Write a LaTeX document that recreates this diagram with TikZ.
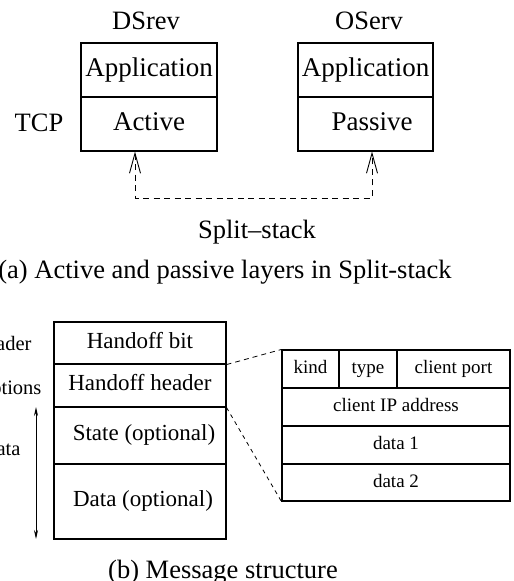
\documentclass[tikz,border=0pt]{standalone}
\usepackage{fontspec}
\setmainfont{Liberation Serif}
\usetikzlibrary{arrows.meta}

\begin{document}
\begin{tikzpicture}[x=1pt,y=-1pt,
  cell/.style={draw,line width=1.1pt,rectangle,inner sep=0pt},
  bigtext/.style={font=\fontsize{27}{31}\selectfont,text height=18pt,text depth=6pt},
  captext/.style={font=\fontsize{26.5}{31}\selectfont},
  midtext/.style={font=\fontsize{23}{27}\selectfont,text height=15.5pt,text depth=5pt},
  sidetext/.style={font=\fontsize{20.5}{24}\selectfont},
  smalltext/.style={font=\fontsize{19}{23}\selectfont,text height=13pt,text depth=4pt},
  splitlink/.style={line width=0.9pt,dash pattern=on 6pt off 4.5pt,
    {Straight Barb[length=20pt,width=11pt]}-{Straight Barb[length=20pt,width=11pt]}},
  zoomlink/.style={line width=0.8pt,dash pattern=on 5pt off 4pt}]
\useasboundingbox (0,0) rectangle (514,581);
\node[captext,anchor=base] (dsrev) at (146,29) {DSrev};
\node[captext,anchor=base] (oserv) at (369,29) {OServ};
\node[cell,bigtext,minimum width=136pt,minimum height=54pt] (dsapp) at (149,70) {Application};
\node[cell,bigtext,minimum width=136pt,minimum height=54pt] (dsact) at (149,124) {Active};
\node[cell,bigtext,minimum width=135pt,minimum height=54pt] (osapp) at (365.5,70) {Application};
\node[cell,bigtext,minimum width=135pt,minimum height=54pt] (ospas) at (365.5,124) {\hspace{13pt}Passive};
\node[captext,anchor=base] (tcp) at (39,131) {TCP};
\coordinate (actfoot) at ([xshift=-14pt]dsact.south);
\coordinate (pasfoot) at ([xshift=6.5pt]ospas.south);
\coordinate (splitbase) at (0,198);
\draw[splitlink] (actfoot) -- (actfoot |- splitbase) -- (pasfoot |- splitbase) -- (pasfoot);
\node[captext,anchor=base] (splitlbl) at (257,238) {Split--stack};
\node[captext,anchor=base] (capa) at (225,278) {(a) Active and passive layers in Split-stack};
\node[cell,midtext,minimum width=172pt,minimum height=42pt] (hbit) at (140,343) {Handoff bit\hspace{18pt}};
\node[cell,midtext,minimum width=172pt,minimum height=43pt] (hhdr) at (140,385.5) {Handoff header\hspace{10pt}};
\node[cell,midtext,minimum width=172pt,minimum height=57pt] (state) at (140,435.5) {\hspace{8pt}State (optional)};
\node[cell,midtext,minimum width=172pt,minimum height=75pt] (data) at (140,501.5) {\hspace{6pt}Data (optional)};
\node[sidetext,anchor=base east] (hdrlbl) at (35,350) {Header};
\node[sidetext,anchor=base east] (optlbl) at (45,394) {Options};
\node[sidetext,anchor=base east] (datalbl) at (24,455) {Data};
\coordinate (spantop) at (36,407);
\coordinate (spanbot) at (36,539);
\draw[line width=0.8pt,{Stealth[length=9pt,width=4pt]}-{Stealth[length=9pt,width=4pt]}] (spantop) -- (spanbot);
\node[cell,smalltext,minimum width=57pt,minimum height=38pt] (kind) at (310.5,369) {kind};
\node[cell,smalltext,minimum width=58pt,minimum height=38pt] (type) at (368,369) {type};
\node[cell,smalltext,minimum width=113pt,minimum height=38pt] (cport) at (453.5,369) {client port};
\node[cell,smalltext,minimum width=228pt,minimum height=38pt] (cip) at (396,407) {client IP address};
\node[cell,smalltext,minimum width=228pt,minimum height=38pt] (dataone) at (396,445) {data 1};
\node[cell,smalltext,minimum width=228pt,minimum height=37pt] (datatwo) at (396,482.5) {data 2};
\draw[zoomlink] (hbit.south east) -- (kind.north west);
\draw[zoomlink,dash pattern=on 4pt off 4pt] (hhdr.south east) -- (datatwo.south west);
\node[captext,anchor=base] (capb) at (223,578) {(b) Message structure};
\end{tikzpicture}
\end{document}
